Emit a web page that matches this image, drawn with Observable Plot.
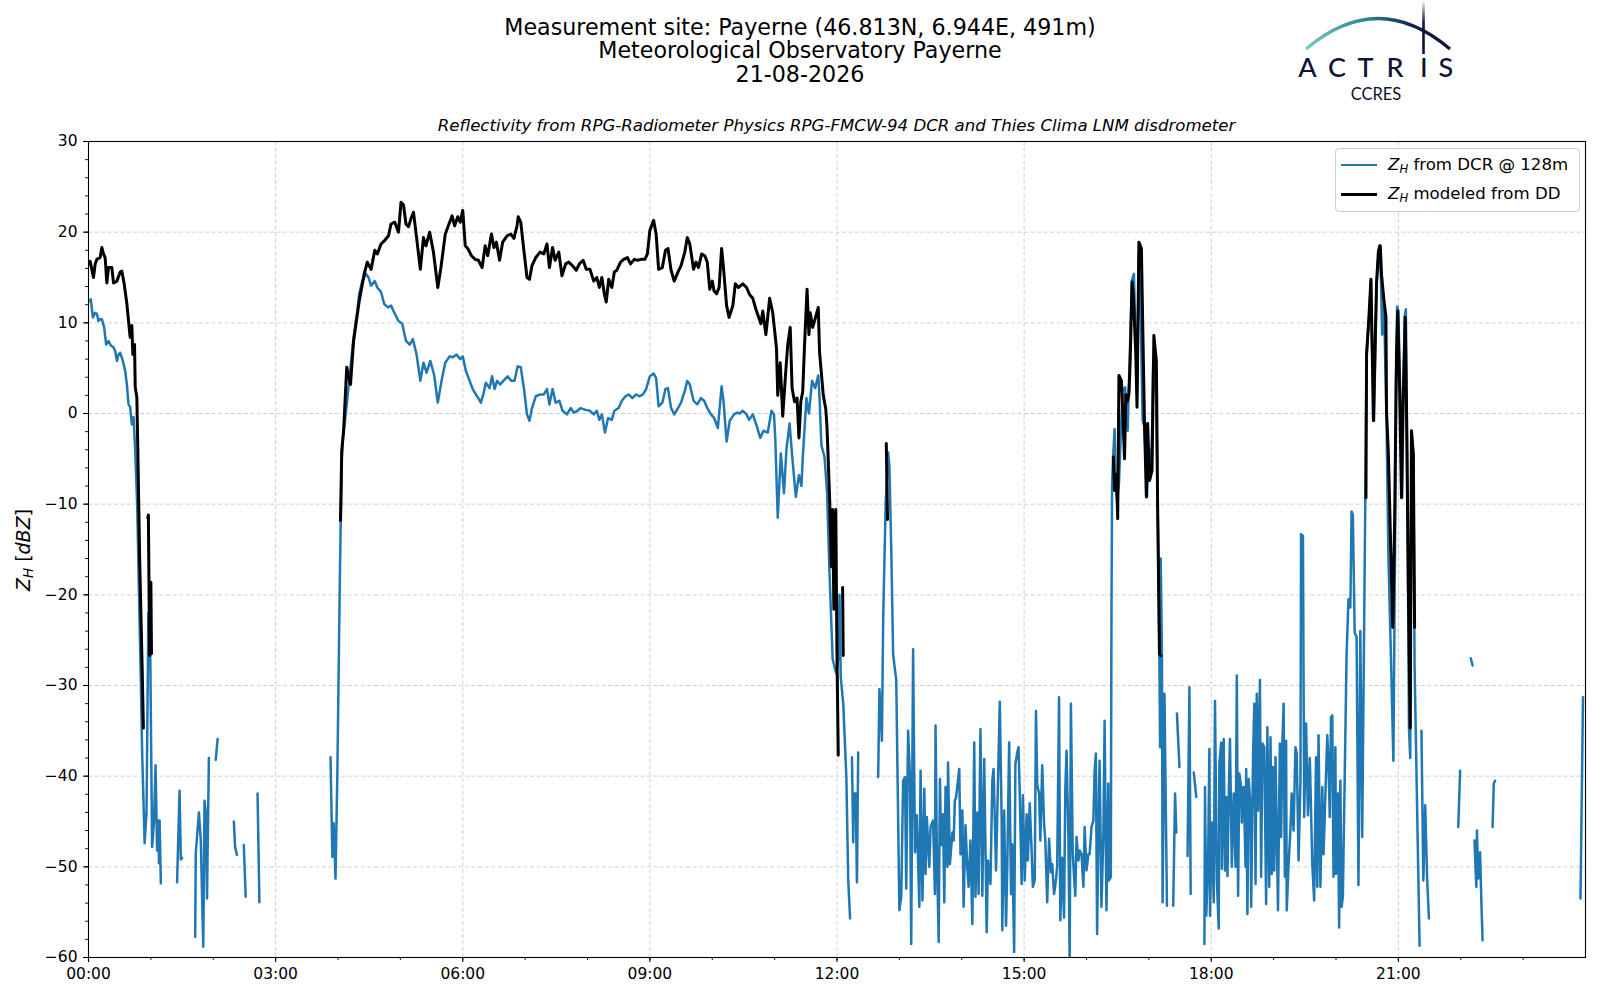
<!DOCTYPE html>
<html>
<head>
<meta charset="utf-8">
<script src="https://cdn.jsdelivr.net/npm/d3@7"></script>
<script src="https://cdn.jsdelivr.net/npm/@observablehq/plot@0.6"></script>
<style>
  html, body { margin: 0; padding: 0; background: #fff; }
  #root { position: relative; width: 1600px; height: 1000px; font-family: "DejaVu Sans", sans-serif; color: #000; overflow: hidden; }
  #chart { position: absolute; left: 0; top: 0; }
  .title { position: absolute; left: 0; width: 1600px; top: 16px; text-align: center; font-size: 22.2px; line-height: 23.3px; }
  .subtitle { position: absolute; left: 0; width: 1673px; top: 115.5px; text-align: center; font-size: 16.6px; line-height: 20px; font-style: italic; }
  .legend { position: absolute; left: 1335px; top: 148px; width: 245px; height: 64px; box-sizing: border-box;
            border: 1px solid #cccccc; border-radius: 4px; background: rgba(255,255,255,0.85); }
  .legend .row { position: absolute; left: 0; height: 20px; font-size: 16.6px; line-height: 20px; white-space: nowrap; }
  .legend .sw { position: absolute; left: 5px; top: 9px; width: 36px; height: 0; }
  .legend .lbl { position: absolute; left: 52px; top: 0; }
  sub { font-size: 70%; vertical-align: -0.25em; line-height: 0; }
  #over { position: absolute; left: 0; top: 0; pointer-events: none; }
</style>
</head>
<body>
<div id="root">
  <div id="chart"></div>
  <div class="title">Measurement site: Payerne (46.813N, 6.944E, 491m)<br>Meteorological Observatory Payerne<br>21-08-2026</div>
  <div class="subtitle">Reflectivity from RPG-Radiometer Physics RPG-FMCW-94 DCR and Thies Clima LNM disdrometer</div>
  <div class="legend">
    <div class="row" style="top:6px;width:240px"><div class="sw" style="border-top:2.5px solid #1f77b4"></div><div class="lbl"><i>Z<sub>H</sub></i> from DCR @ 128m</div></div>
    <div class="row" style="top:35px;width:240px"><div class="sw" style="border-top:3px solid #000"></div><div class="lbl"><i>Z<sub>H</sub></i> modeled from DD</div></div>
  </div>
  <svg id="over" width="1600" height="1000" xmlns="http://www.w3.org/2000/svg">
    <defs>
      <linearGradient id="arcg" gradientUnits="userSpaceOnUse" x1="1306" y1="0" x2="1450" y2="0">
        <stop offset="0" stop-color="#74cbc4"/>
        <stop offset="0.45" stop-color="#2c7d8c"/>
        <stop offset="0.75" stop-color="#10204a"/>
        <stop offset="1" stop-color="#0d1236"/>
      </linearGradient>
      <linearGradient id="vg" gradientUnits="userSpaceOnUse" x1="0" y1="2" x2="0" y2="54">
        <stop offset="0" stop-color="#e6e8f0"/>
        <stop offset="0.4" stop-color="#0d1236"/>
        <stop offset="1" stop-color="#0d1236"/>
      </linearGradient>
    </defs>
    <path d="M1306,49 Q1378,-12 1450,49" fill="none" stroke="url(#arcg)" stroke-width="3.2"/>
    <line x1="1423.5" y1="2" x2="1423.5" y2="54" stroke="url(#vg)" stroke-width="2.6"/>
    <g font-family="Lato, 'DejaVu Sans', sans-serif" font-size="27" font-weight="500" fill="#0d1236" text-anchor="middle">
      <text x="1307.5" y="77">A</text>
      <text x="1337" y="77">C</text>
      <text x="1365.5" y="77">T</text>
      <text x="1395" y="77">R</text>
      <text x="1423.8" y="77">I</text>
      <text x="1445.8" y="77">S</text>
    </g>
    <text x="1376" y="99.5" font-family="Lato, 'DejaVu Sans', sans-serif" font-size="16.5" fill="#0d1236" text-anchor="middle">CCRES</text>
    <text transform="translate(29.5,550) rotate(-90)" text-anchor="middle" font-family="'DejaVu Sans', sans-serif" font-size="19" fill="#000"><tspan font-style="italic">Z</tspan><tspan font-style="italic" font-size="13.5" dy="3.8">H</tspan><tspan dy="-3.8"> [</tspan><tspan font-style="italic">dBZ</tspan><tspan>]</tspan></text>
  </svg>
</div>
<script>
// ---- data: hours since 00:00 UTC, reflectivity in dBZ; null = gap ----
const dcrPoints = [
  // 00:00 - 01:10
  [0.016,12.4],[0.037,12.6],[0.07,10.6],[0.107,11.1],[0.134,11.0],[0.16,10.2],[0.187,10.4],[0.214,10.4],
  [0.251,9.5],[0.283,7.6],[0.321,8.0],[0.358,7.5],[0.401,7.3],[0.428,6.9],[0.455,5.8],[0.481,6.5],
  [0.508,6.7],[0.551,5.8],[0.588,4.7],[0.615,3.2],[0.642,1.0],[0.668,0.7],[0.695,-1.2],[0.722,-0.4],
  [0.749,-4.1],[0.78,-10],[0.81,-20],[0.84,-30],[0.86,-37.3],[0.9,-47.4],[0.93,-44],[0.96,-22],
  [0.99,-26.4],[1.02,-47.8],[1.05,-45],[1.075,-38.8],[1.1,-48.2],[1.12,-44.9],[1.13,-49.6],[1.14,-44.9],
  [1.16,-51.8],[1.2,null],
  [1.42,-51.7],[1.46,-41.6],[1.48,-49.2],[1.5,-49],[1.6,null],
  [1.71,-57.7],[1.72,-48.5],[1.77,-44],[1.8,-47],[1.82,-52.9],[1.84,-58.8],[1.86,-42.7],[1.88,-44],
  [1.9,-53.5],[1.93,-38],[2.0,null],
  [2.04,-38.2],[2.07,-35.9],[2.2,null],
  [2.33,-45],[2.35,-47.8],[2.38,-48.7],[2.42,null],
  [2.49,-47.6],[2.52,-53.3],[2.6,null],
  [2.71,-41.9],[2.74,-53.9],[3.0,null],
  // 03:53 - 12:13
  [3.88,-37.9],[3.91,-48.9],[3.93,-45.2],[3.96,-51.3],[3.99,-39.5],[4.03,-18],[4.06,-5],[4.08,-2.7],
  [4.13,0.3],[4.2,5.1],[4.25,8.4],[4.31,11.3],[4.34,13.2],[4.39,14.6],[4.45,15.4],[4.49,15],
  [4.53,14.1],[4.59,14.6],[4.63,13.9],[4.69,13.4],[4.74,12.1],[4.8,11.7],[4.85,11.9],[4.91,11],
  [4.97,10.2],[5.03,9.9],[5.09,8],[5.15,7.6],[5.2,8.2],[5.26,6.5],[5.32,3.6],[5.37,5.6],
  [5.42,4.5],[5.48,5.8],[5.54,4.3],[5.6,1.2],[5.66,3.6],[5.72,5.6],[5.79,6.3],[5.84,6.2],
  [5.9,6.5],[5.96,6],[6.0,6.3],[6.05,4.7],[6.11,3.6],[6.16,2.7],[6.21,2.1],[6.25,1.7],
  [6.29,1.2],[6.33,2.1],[6.37,3.4],[6.43,2.8],[6.47,4.1],[6.51,2.7],[6.55,3.6],[6.6,3.2],
  [6.65,3.6],[6.72,4.1],[6.78,3.6],[6.83,3.6],[6.88,5.2],[6.93,5.1],[6.98,2.8],[7.03,-0.1],
  [7.07,-0.8],[7.11,0.6],[7.17,1.9],[7.24,2.1],[7.3,2.1],[7.35,2.7],[7.39,1],[7.44,2.7],
  [7.49,1.2],[7.55,1.4],[7.6,0.3],[7.67,-0.1],[7.73,0.6],[7.78,0.1],[7.84,0.3],[7.89,0.6],
  [7.97,0.4],[8.04,0.3],[8.1,-0.1],[8.15,0.3],[8.19,-0.7],[8.23,-0.1],[8.28,-2.1],[8.33,-0.5],
  [8.39,-0.7],[8.43,0.3],[8.5,0.6],[8.55,1.4],[8.61,1.9],[8.66,2.1],[8.72,1.7],[8.78,2.1],
  [8.83,1.9],[8.89,2.1],[8.94,2.7],[9.0,4.1],[9.06,4.4],[9.1,3.9],[9.14,0.8],[9.2,1.2],
  [9.25,2.7],[9.29,2.8],[9.34,0.6],[9.39,-0.1],[9.45,0.6],[9.5,1.2],[9.56,2.5],[9.6,3.6],
  [9.64,3.2],[9.7,1.4],[9.76,1],[9.82,1.7],[9.87,1.4],[9.92,0.6],[9.98,-0.1],[10.03,-0.5],
  [10.09,-1.6],[10.15,3],[10.18,1.4],[10.23,-3.1],[10.28,-0.8],[10.35,-0.1],[10.4,0.1],[10.44,0],
  [10.49,0.3],[10.55,-0.1],[10.59,-0.7],[10.65,-0.1],[10.71,-1.3],[10.77,-2.7],[10.82,-1.9],[10.89,-2.1],
  [10.95,0.3],[10.99,-0.1],[11.01,-2.7],[11.05,-11.5],[11.1,-4.4],[11.15,-8.8],[11.19,-3.9],[11.24,-1.1],
  [11.28,-4.6],[11.34,-9.2],[11.39,-6.8],[11.43,-8],[11.45,-5],[11.51,1.7],[11.55,0],[11.6,3.6],
  [11.65,2.8],[11.7,4.2],[11.72,1.7],[11.75,-3.5],[11.8,-4.8],[11.84,-8.6],[11.88,-17.6],[11.93,-27.1],
  [11.99,-28.7],[12.02,-26.9],[12.04,-20],[12.06,-29.1],[12.1,-32],[12.15,-40.1],[12.18,-51.5],[12.21,-55.7],
  [12.22,null],
  [12.24,-37.9],[12.26,-47.3],[12.27,-41.9],[12.3,-41.9],[12.32,-51.7],[12.34,-37.4],[12.5,null],
  // 12:40 - 17:18
  [12.66,-40.1],[12.68,-30.4],[12.72,-36.1],[12.74,-22.8],[12.78,-10],[12.82,-4.3],[12.84,-5.8],[12.87,-15],
  [12.9,-26.6],[12.95,-29.4],[13.0,-54.8],[13.03,-53.3],[13.06,-40.5],[13.09,-40.1],[13.11,-52.4],[13.14,-35],
  [13.17,-40.1],[13.19,-58.5],[13.22,-26],[13.25,-48.4],[13.28,-44.3],[13.32,-54.4],[13.34,-39.4],[13.37,-53.7],
  [13.4,-41.4],[13.42,-50.8],[13.44,-44.5],[13.48,-50],[13.5,-45.6],[13.54,-44.9],[13.57,-53],[13.58,-34.4],
  [13.6,-47.6],[13.63,-58.3],[13.65,-40.3],[13.67,-47.6],[13.7,-44.2],[13.72,-53.9],[13.74,-41.2],[13.77,-50],
  [13.78,-38.5],[13.81,-49.7],[13.85,-46.2],[13.87,-47.1],[13.89,-42.7],[13.91,-42.3],[13.96,-39.2],[13.98,-48.6],
  [14.01,-43.8],[14.03,-54.4],[14.06,-45.4],[14.09,-50.2],[14.11,-52.2],[14.14,-47.1],[14.17,-56.3],[14.2,-36.3],
  [14.22,-53.3],[14.25,-44],[14.27,-53],[14.3,-34.8],[14.33,-53.2],[14.36,-38.1],[14.4,-57.2],[14.42,-49.3],
  [14.46,-51.9],[14.49,-40.5],[14.51,-39.2],[14.55,-50.4],[14.58,-40.8],[14.61,-31.8],[14.64,-44.9],[14.65,-57],
  [14.68,-43.8],[14.71,-56.5],[14.73,-50],[14.76,-36.3],[14.79,-53],[14.81,-47.5],[14.84,-59.4],[14.86,-38.6],
  [14.89,-37.4],[14.91,-36.8],[14.93,-41.9],[14.96,-51.9],[14.98,-42.1],[15.01,-51.5],[15.04,-44.2],[15.06,-49.3],
  [15.09,-43],[15.12,-48.2],[15.14,-52.2],[15.17,-51.5],[15.19,-32.8],[15.21,-41],[15.24,-41.9],[15.26,-47.1],
  [15.29,-38.8],[15.32,-45.3],[15.34,-47.1],[15.37,-53.9],[15.4,-46.9],[15.43,-50.6],[15.45,-49.7],[15.48,-53],
  [15.51,-51.5],[15.53,-49.9],[15.56,-31.3],[15.58,-55.9],[15.61,-49],[15.64,-55.6],[15.66,-41.6],[15.68,-37.2],
  [15.71,-46.7],[15.73,-60.3],[15.75,-32],[15.78,-48.6],[15.8,-51],[15.82,-53.2],[15.84,-46.7],[15.87,-49.3],
  [15.89,-48.2],[15.92,-48.6],[15.95,-52.2],[15.97,-45.6],[16.0,-50.4],[16.03,-48.6],[16.05,-48.6],[16.08,-45.6],
  [16.11,-44.9],[16.13,-39.4],[16.15,-37.5],[16.17,-57.4],[16.2,-41.6],[16.21,-38.3],[16.24,-54.4],[16.27,-46.5],
  [16.29,-33.9],[16.32,-54.8],[16.35,-40.8],[16.36,-51.5],[16.39,-51.1],[16.4,-22.8],[16.41,-7.8],[16.43,-4.4],
  [16.45,-1.7],[16.47,-8.1],[16.49,-9.6],[16.52,-7.8],[16.55,-2.2],[16.58,2.5],[16.62,2.9],[16.66,-1.9],
  [16.69,5.5],[16.73,14.7],[16.76,15.4],[16.79,7.3],[16.81,2.2],[16.84,17.6],[16.87,10.3],[16.9,-0.8],
  [16.93,-1.5],[16.97,-9.2],[17.0,-3.7],[17.04,-6.3],[17.07,5.8],[17.12,1.1],[17.14,-10],[17.16,-19.5],
  [17.18,-36.8],[17.19,-16],[17.21,-26.9],[17.22,-53.9],[17.25,-30.9],[17.29,-54.3],[17.35,null],
  [17.39,-54.3],[17.42,-41.9],[17.44,-46.2],[17.445,null],
  [17.45,-33.1],[17.49,-39],[17.55,null],
  [17.62,-48.8],[17.65,-30.2],[17.67,-53],[17.7,null],
  [17.72,-39.6],[17.76,-42.3],[17.8,null],
  // 17:53 - 21:20
  [17.89,-58.5],[17.9,-41.2],[17.92,-55.4],[17.95,-49.3],[17.97,-37],[17.98,-55.4],[18.01,-45.1],[18.04,-53.9],
  [18.06,-31.7],[18.09,-51.5],[18.12,-56.8],[18.13,-38.6],[18.16,-36.3],[18.17,-50.2],[18.2,-35.9],[18.22,-50.4],
  [18.24,-42.3],[18.26,-51],[18.28,-42.3],[18.3,-35.9],[18.33,-50],[18.36,-41.9],[18.39,-50],[18.41,-28.9],
  [18.43,-53.2],[18.45,-39.7],[18.48,-41.2],[18.49,-45.1],[18.52,-41.2],[18.55,-50],[18.56,-39.2],[18.58,-55.2],
  [18.6,-40.3],[18.63,-43.4],[18.64,-54.4],[18.67,-37.9],[18.69,-32],[18.71,-51.9],[18.73,-30.9],[18.75,-43.8],
  [18.78,-29.4],[18.8,-51.1],[18.82,-36.4],[18.85,-36.8],[18.88,-54.1],[18.9,-34.6],[18.93,-52.2],[18.95,-35.7],
  [18.97,-50.8],[18.99,-39],[19.01,-50.4],[19.03,-37.9],[19.05,-46],[19.07,-54.8],[19.1,-36.4],[19.12,-46.7],
  [19.14,-36.4],[19.16,-32],[19.18,-51.1],[19.2,-36.1],[19.21,-54.8],[19.24,-49.7],[19.27,-45.8],[19.29,-41.9],
  [19.32,-46],[19.35,-36.8],[19.37,-37.5],[19.4,-49.3],[19.43,-40.5],[19.44,-13.3],[19.47,-13.5],[19.49,-44.5],
  [19.52,-34.2],[19.55,-44.3],[19.58,-38],[19.62,-49.7],[19.65,-53.7],[19.68,-37.9],[19.7,-52.2],[19.72,-35.5],
  [19.75,-52.2],[19.78,-41.2],[19.8,-48.6],[19.86,-35.5],[19.88,-38.6],[19.9,-44.5],[19.92,-33.5],[19.94,-33.3],
  [19.96,-51.1],[19.99,-36.8],[20.0,-50.8],[20.03,-41.9],[20.05,-56.7],[20.07,-40.5],[20.09,-54.4],[20.11,-53.3],
  [20.17,-26.5],[20.2,-20.5],[20.23,-21.4],[20.25,-10.8],[20.27,-11.2],[20.3,-24.2],[20.33,-24.6],[20.36,-52],
  [20.39,-24],[20.42,-46.7],[20.47,-9.3],[20.49,6.5],[20.53,10.6],[20.56,14.6],[20.58,7.2],[20.61,-0.8],
  [20.65,14.2],[20.69,18.5],[20.72,15],[20.74,8.7],[20.77,12],[20.81,-0.8],[20.84,-15.6],[20.88,-26.6],
  [20.92,-38.3],[20.95,-11.8],[20.96,2.8],[20.98,11.8],[21.0,11.3],[21.03,2.1],[21.06,-9.3],[21.1,10.7],
  [21.12,11.5],[21.14,-4.5],[21.17,-34.7],[21.19,-38],[21.21,-2],[21.24,-4.5],[21.26,-28],[21.34,-58.7],
  [21.35,null],
  [21.37,-35],[21.4,-51.5],[21.43,-43.2],[21.46,-51.1],[21.49,-55.7],[21.6,null],
  [21.96,-45.6],[21.99,-39.4],[22.1,null],
  [22.16,-27],[22.19,-27.8],[22.2,null],
  [22.22,-47.1],[22.25,-52.2],[22.26,-46],[22.28,-51.3],[22.31,-48.4],[22.33,-53.7],[22.35,-58.1],[22.4,null],
  [22.51,-45.6],[22.53,-40.8],[22.55,-40.5],[22.7,null],
  [23.92,-53.5],[23.96,-31.3]
];

const ddPoints = [
  // 00:00 - 01:01
  [0.016,16.5],[0.027,16.8],[0.053,15.9],[0.08,15.0],[0.107,16.5],[0.134,17.0],[0.187,17.2],[0.214,18.3],
  [0.241,17.6],[0.267,17.2],[0.294,14.4],[0.321,16.1],[0.374,16.1],[0.401,14.4],[0.455,14.6],[0.508,15.6],
  [0.535,15.7],[0.572,14.3],[0.615,12.1],[0.642,10.2],[0.668,8.4],[0.695,9.7],[0.711,6.5],[0.738,7.6],
  [0.749,2.9],[0.775,1.8],[0.791,-4.1],[0.82,-16],[0.86,-28],[0.88,-34.7],[0.9,null],
  [0.95,-11.5],[0.96,-11.2],[0.98,-26.7],[1.0,-18.6],[1.01,-26.5],[1.1,null],
  // 04:02 - 12:06
  [4.04,-11.8],[4.06,-4.1],[4.09,-1.9],[4.14,5.1],[4.2,3.2],[4.25,8],[4.34,12.4],[4.42,15.4],
  [4.47,16.7],[4.53,15.9],[4.59,18],[4.63,17.6],[4.69,18.7],[4.75,19.1],[4.81,19.6],[4.85,20.9],
  [4.91,21.1],[4.97,20],[5.01,23.3],[5.05,23],[5.09,20.9],[5.13,20.6],[5.17,21.5],[5.21,22.2],
  [5.26,19.4],[5.32,15.9],[5.37,19.4],[5.41,18.5],[5.47,20],[5.53,17.8],[5.6,13.9],[5.65,16.1],
  [5.72,19.8],[5.79,21.1],[5.83,21.8],[5.87,20.7],[5.92,21.7],[5.96,21.1],[6.0,22.4],[6.04,18.5],
  [6.08,18.2],[6.14,17.4],[6.2,17],[6.25,16.9],[6.31,16.1],[6.36,18.5],[6.4,17.4],[6.46,19.8],
  [6.5,18.3],[6.54,18.9],[6.59,16.9],[6.64,18.9],[6.71,19.6],[6.77,19.8],[6.82,19.3],[6.87,20.7],
  [6.89,21.7],[6.93,21.1],[6.98,18],[7.03,15],[7.07,14.8],[7.11,16.3],[7.17,17.2],[7.24,17.8],
  [7.3,17.6],[7.35,18.7],[7.39,16.1],[7.44,18.3],[7.48,16.9],[7.54,17.8],[7.59,15.2],[7.65,16.5],
  [7.7,16.7],[7.76,16.3],[7.82,15.8],[7.87,16.5],[7.93,16.9],[7.98,15.9],[8.04,15.9],[8.1,14.6],
  [8.15,15],[8.19,13.9],[8.23,15],[8.27,13.2],[8.3,12.3],[8.34,14.8],[8.39,13.9],[8.43,15.6],
  [8.47,15.8],[8.53,16.7],[8.58,17],[8.64,17.2],[8.69,16.5],[8.75,17],[8.8,16.9],[8.86,17],
  [8.92,17],[8.96,17.6],[9.0,20.2],[9.06,21.3],[9.1,19.8],[9.14,15.9],[9.2,16.1],[9.25,18],
  [9.29,18.2],[9.34,15.8],[9.39,14.6],[9.45,15.6],[9.5,16.3],[9.56,17.8],[9.6,19.4],[9.64,18.7],
  [9.7,15.9],[9.74,16.7],[9.78,16.1],[9.83,17.6],[9.88,17.4],[9.92,16.7],[9.96,13.7],[10.0,14.6],
  [10.03,13.5],[10.07,13.2],[10.11,13.9],[10.15,18.2],[10.18,16.1],[10.23,11.9],[10.27,10.6],[10.33,11.9],
  [10.37,14.3],[10.42,13.9],[10.49,14.3],[10.55,13.9],[10.6,13.1],[10.65,12.7],[10.7,11.5],[10.74,10.7],
  [10.78,9.9],[10.81,11.3],[10.86,8.7],[10.92,12.7],[10.97,11.1],[11.03,7.2],[11.05,2],[11.09,5.6],
  [11.13,-0.3],[11.18,4.8],[11.21,7.6],[11.25,9.5],[11.28,2.8],[11.32,1.3],[11.36,1.7],[11.39,-2.7],
  [11.42,1.3],[11.45,2.4],[11.48,7.6],[11.52,13.7],[11.55,8.7],[11.57,11.1],[11.61,9.5],[11.66,10.7],
  [11.7,11.7],[11.72,6.8],[11.78,2],[11.82,0.5],[11.84,-1.5],[11.88,-9],[11.91,-16.9],[11.93,-10.6],
  [11.95,-21.6],[11.98,-10.6],[12.0,-26.7],[12.02,-37.7],[12.05,null],
  [12.09,-19.2],[12.1,-26.7],[12.2,null],
  [12.79,-3.3],[12.81,-11.7],[13.0,null],
  // 16:26 - 17:12
  [16.43,-4.8],[16.45,-8.5],[16.48,-6.7],[16.5,-11.6],[16.52,4.2],[16.56,3.6],[16.58,0.3],[16.61,-5],
  [16.63,2.1],[16.65,1.3],[16.68,2.1],[16.7,5.7],[16.73,14.5],[16.75,13.2],[16.79,6.6],[16.81,0.7],
  [16.84,18.9],[16.88,18.2],[16.9,10.3],[16.93,-1.1],[16.96,-9.2],[16.98,-1.1],[17.01,-7.4],[17.05,-6.3],
  [17.08,8.6],[17.12,5.8],[17.14,-10],[17.17,-26.5],[17.19,-26.7],[17.3,null],
  // 20:29 - 21:16
  [20.48,-9.3],[20.49,6.5],[20.53,10.9],[20.56,14.8],[20.58,7.2],[20.6,-0.8],[20.65,14.4],[20.68,17.9],
  [20.71,18.5],[20.73,15.3],[20.77,12.4],[20.8,10.7],[20.81,0.3],[20.84,-4.5],[20.88,-15.6],[20.91,-23.6],
  [20.94,-11.9],[20.97,6.5],[20.99,11.3],[21.02,2.8],[21.05,-9.3],[21.07,-0.1],[21.11,10.6],[21.13,1.1],
  [21.16,-19.2],[21.19,-34.7],[21.21,-1.9],[21.24,-4.5],[21.26,-23.6]
];

const xMajorTicks = [0, 3, 6, 9, 12, 15, 18, 21];
const xTickLabels = ["00:00", "03:00", "06:00", "09:00", "12:00", "15:00", "18:00", "21:00"];
const xMinorTicks = d3.range(0, 24, 1);
const yMajorTicks = d3.range(-60, 31, 10);
const yMinorTicks = d3.range(-60, 31, 2);

const toRows = pts => pts.map(([h, z]) => ({h, z}));
const dcr = toRows(dcrPoints);
const dd = toRows(ddPoints);

const gridStyle = {stroke: "#cfcfcf", strokeOpacity: 1, strokeWidth: 1, strokeDasharray: "4,2.5"};

const chart = Plot.plot({
  width: 1600,
  height: 1000,
  marginLeft: 88,
  marginRight: 15,
  marginTop: 141,
  marginBottom: 43,
  x: {domain: [0, 24], label: null},
  y: {domain: [-60, 30], label: null},
  style: {fontFamily: "DejaVu Sans, sans-serif", fontSize: "15.5px", color: "#000", background: "transparent", overflow: "visible"},
  marks: [
    Plot.gridX({ticks: xMajorTicks, ...gridStyle}),
    Plot.gridY({ticks: yMajorTicks, ...gridStyle}),
    Plot.line(dcr, {x: "h", y: "z", stroke: "#1f77b4", strokeWidth: 2.5, clip: true}),
    Plot.line(dd, {x: "h", y: "z", stroke: "#000000", strokeWidth: 3, clip: true}),
    Plot.axisX({ticks: xMajorTicks, tickFormat: d => xTickLabels[xMajorTicks.indexOf(d)], tickSize: 5, tickPadding: 5, label: null, stroke: "#000", strokeWidth: 1.1}),
    Plot.axisX({ticks: xMinorTicks, tickFormat: () => "", tickSize: 3, label: null, stroke: "#000", strokeWidth: 0.9}),
    Plot.axisY({ticks: yMajorTicks, tickSize: 5, tickPadding: 6, label: null, stroke: "#000", strokeWidth: 1.1}),
    Plot.axisY({ticks: yMinorTicks, tickFormat: () => "", tickSize: 3, label: null, stroke: "#000", strokeWidth: 0.9}),
    Plot.frame({stroke: "#000", strokeWidth: 1.1})
  ]
});
document.getElementById("chart").appendChild(chart);
</script>
</body>
</html>
